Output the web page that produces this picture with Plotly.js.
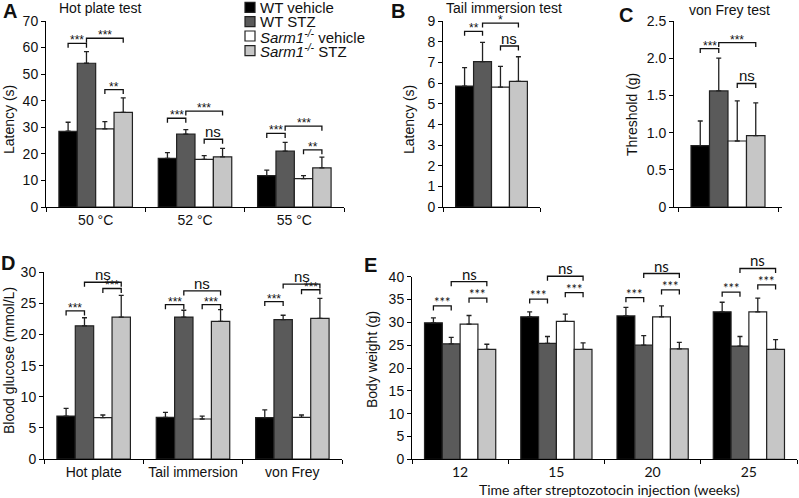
<!DOCTYPE html>
<html lang="en">
<head>
  <meta charset="UTF-8">
  <title>Sarm1 STZ neuropathy</title>
  <script src="https://cdn.plot.ly/plotly-3.0.1.min.js"></script>
  <style>
    body { margin: 0; background: #fff; }
    #chart { width: 799px; height: 498px; }
  </style>
</head>
<body>
  <div id="chart"></div>
  <script>
    // groups (legend order)
    const groupNames = ['WT vehicle', 'WT STZ', '<i>Sarm1<sup>-/-</sup></i> vehicle', '<i>Sarm1<sup>-/-</sup></i> STZ'];

    // A - hot plate latency (s), one row per group
    const hotCats = ['50 °C', '52 °C', '55 °C'];
    const hotMean = [[28.5, 18.3, 11.8], [54.1, 27.4, 21.0], [29.4, 17.9, 10.7], [35.6, 18.9, 14.7]];
    const hotErr = [[3.4, 2.2, 2.1], [4.4, 1.7, 3.3], [2.7, 1.4, 1.1], [5.5, 3.2, 4.1]];

    // B - tail immersion latency (s)
    const tailMean = [[5.85], [7.03], [5.8], [6.08]];
    const tailErr = [[0.89], [0.94], [1.0], [1.19]];

    // C - von Frey threshold (g)
    const frMean = [[0.826], [1.56], [0.887], [0.96]];
    const frErr = [[0.33], [0.44], [0.54], [0.44]];

    // D - blood glucose (mmol/L)
    const gluCats = ['Hot plate', 'Tail immersion', 'von Frey'];
    const gluMean = [[6.9, 6.7, 6.65], [21.4, 22.8, 22.4], [6.65, 6.43, 6.7], [22.8, 22.1, 22.6]];
    const gluErr = [[1.25, 0.8, 1.25], [1.3, 1.1, 0.7], [0.42, 0.47, 0.37], [3.5, 1.9, 3.2]];

    // E - body weight (g)
    const bwCats = ['12', '15', '20', '25'];
    const bwMean = [[29.9, 31.2, 31.4, 32.3], [25.3, 25.4, 25.0, 24.8], [29.6, 30.2, 31.2, 32.3], [24.1, 24.1, 24.2, 24.1]];
    const bwErr = [[1.1, 1.1, 1.9, 2.1], [1.4, 1.5, 2.1, 2.1], [1.9, 1.6, 2.4, 3.0], [1.1, 1.4, 1.4, 2.1]];

    // significance brackets: [category, bar from, bar to, level, label]
    const hotSig = [[0, 0, 1, 61.6, '***'], [0, 1, 3, 63.5, '***'], [0, 2, 3, 44.2, '**'],
                    [1, 0, 1, 33.4, '***'], [1, 1, 3, 36.1, '***'], [1, 2, 3, 25.5, 'ns'],
                    [2, 0, 1, 27.7, '***'], [2, 1, 3, 30.4, '***'], [2, 2, 3, 21.5, '**']];
    const tailSig = [[0, 0, 1, 8.5, '**'], [0, 1, 3, 8.9, '*'], [0, 2, 3, 7.79, 'ns']];
    const frSig = [[0, 0, 1, 2.13, '***'], [0, 1, 3, 2.21, '***'], [0, 2, 3, 1.66, 'ns']];
    const gluSig = [[0, 0, 1, 23.8, '***'], [0, 2, 3, 27.4, '***'], [0, 1, 3, 28.4, 'ns'],
                    [1, 0, 1, 24.8, '***'], [1, 2, 3, 24.8, '***'], [1, 1, 3, 27.0, 'ns'],
                    [2, 0, 1, 25.3, '***'], [2, 2, 3, 27.2, '***'], [2, 1, 3, 28.1, 'ns']];
    const bwSig = [[0, 0, 1, 33.6, '***'], [0, 2, 3, 35.3, '***'], [0, 1, 3, 38.9, 'ns'],
                   [1, 0, 1, 35.1, '***'], [1, 2, 3, 36.5, '***'], [1, 1, 3, 40.1, 'ns'],
                   [2, 0, 1, 35.4, '***'], [2, 2, 3, 37.1, '***'], [2, 1, 3, 40.7, 'ns'],
                   [3, 0, 1, 36.6, '***'], [3, 2, 3, 38.2, '***'], [3, 1, 3, 41.8, 'ns']];

    const W = 799, H = 498;
    const GAP = 0.26;
    const FONT = '"Liberation Sans", Arial, sans-serif';
    const FONT_E = 'Lato, "Open Sans", sans-serif';
    const fills = ['#000000', '#5a5a5a', '#ffffff', '#c6c6c6'];
    const px = x => x / W;
    const py = y => 1 - y / H;

    // box = [left, right, top, bottom] of the axes in page pixels
    const panels = [
      { id: '', cats: hotCats, mean: hotMean, err: hotErr, sig: hotSig, yMax: 70, dtick: 10,
        box: [46, 344, 21, 207], sigFont: FONT, sigSize: 12 },
      { id: '2', cats: [''], mean: tailMean, err: tailErr, sig: tailSig, yMax: 9, dtick: 1,
        box: [443, 540, 21, 207], sigFont: FONT, sigSize: 12 },
      { id: '3', cats: [''], mean: frMean, err: frErr, sig: frSig, yMax: 2.5, dtick: 0.5,
        box: [674, 782, 21, 207], sigFont: FONT, sigSize: 12, xPad: 0.04,
        tickText: ['0', '0.5', '1.0', '1.5', '2.0', '2.5'] },
      { id: '4', cats: gluCats, mean: gluMean, err: gluErr, sig: gluSig, yMax: 30, dtick: 5,
        box: [44, 342, 272.3, 459], sigFont: FONT, sigSize: 12 },
      // E brackets go above the top tick, so they get a taller hidden subplot (id 6)
      { id: '5', cats: bwCats, mean: bwMean, err: bwErr, sig: bwSig, yMax: 40, dtick: 5,
        box: [412, 797, 276.7, 459.3], sigFont: FONT_E, sigSize: 13, catFont: FONT_E, sigId: '6', sigTop: 245 }
    ];

    const barX = (c, i) => c + (-0.5 + (i + 0.5) / 4) * (1 - GAP);

    let traces = [];
    let annotations = [];
    let shapes = [];
    let layout = {
      width: W, height: H,
      margin: { l: 0, r: 0, t: 0, b: 0 },
      paper_bgcolor: '#fff', plot_bgcolor: 'rgba(0,0,0,0)',
      barmode: 'group', bargap: GAP, bargroupgap: 0,
      showlegend: false,
      font: { family: FONT, color: '#111', size: 14 }
    };

    panels.forEach(p => {
      const xa = 'x' + p.id, ya = 'y' + p.id;
      const n = p.cats.length;
      const idx = p.cats.map((_, i) => i);
      const [x0, x1, y0, y1] = p.box;
      const pad = p.xPad || 0;
      const xRange = [-0.5 - pad, n - 0.5 + pad];

      p.mean.forEach((vals, g) => {
        traces.push({
          type: 'bar', x: idx, y: vals, xaxis: xa, yaxis: ya,
          name: groupNames[g],
          marker: { color: fills[g], line: { color: '#222', width: 1.2 } },
          error_y: { type: 'data', symmetric: false, array: p.err[g], arrayminus: vals.map(() => 0),
                     color: '#222', thickness: 1.3, width: 2.5 },
          hoverinfo: 'skip'
        });
      });

      // where the brackets live
      let sx = xa, sy = ya;
      if (p.sigId) {
        sx = 'x' + p.sigId;
        sy = 'y' + p.sigId;
        const top = p.yMax * (y1 - p.sigTop) / (y1 - y0);
        layout['xaxis' + p.sigId] = { domain: [px(x0), px(x1)], anchor: sy, range: xRange, visible: false, fixedrange: true };
        layout['yaxis' + p.sigId] = { domain: [py(y1), py(p.sigTop)], anchor: sx, range: [0, top], visible: false, fixedrange: true };
      }

      const drop = 4.5 * p.yMax / (y1 - y0);
      let bx = [], by = [];
      p.sig.forEach(([c, a, b, lev, label]) => {
        const xa0 = barX(c, a), xb0 = barX(c, b);
        bx.push(xa0, xa0, xb0, xb0, null);
        by.push(lev - drop, lev, lev, lev - drop, null);
        const isNs = label === 'ns';
        annotations.push({
          xref: sx, yref: sy, x: (xa0 + xb0) / 2, y: lev, yanchor: 'bottom',
          text: label, showarrow: false,
          font: { family: p.sigFont, size: isNs ? 15 : p.sigSize, color: '#111' },
          yshift: isNs ? -3 : -6
        });
      });
      traces.push({
        type: 'scatter', mode: 'lines', x: bx, y: by, xaxis: sx, yaxis: sy,
        line: { color: '#111', width: 1.3 }, cliponaxis: false, hoverinfo: 'skip'
      });

      layout['xaxis' + p.id] = {
        domain: [px(x0), px(x1)], anchor: ya,
        range: xRange,
        tickvals: idx, ticktext: p.cats, ticks: '',
        tickfont: { family: p.catFont || FONT, size: 14, color: '#111' },
        showline: true, linecolor: '#000', linewidth: 1,
        showgrid: false, zeroline: false, fixedrange: true,
        minor: { tick0: 0.5, dtick: 1, ticks: 'outside', ticklen: 4, tickcolor: '#000', showgrid: false }
      };
      const tv = [];
      for (let v = 0; v <= p.yMax + 1e-9; v += p.dtick) tv.push(+v.toFixed(2));
      layout['yaxis' + p.id] = {
        domain: [py(y1), py(y0)], anchor: xa,
        range: [0, p.yMax],
        tickvals: tv, ticktext: p.tickText || tv.map(String),
        ticks: 'outside', ticklen: 4, tickcolor: '#000',
        tickfont: { family: FONT, size: 14, color: '#111' },
        showline: true, linecolor: '#000', linewidth: 1,
        showgrid: false, zeroline: false, fixedrange: true
      };
    });

    // texts placed on the page: [text, x, y, size, bold, anchor]
    const pageText = [
      ['A', 10, 11, 20, true, 'center'], ['B', 398, 11, 20, true, 'center'], ['C', 626, 15, 20, true, 'center'],
      ['D', 8, 263, 20, true, 'center'], ['E', 370, 265, 20, true, 'center'],
      ['Hot plate test', 57, 8, 14, false, 'left'], ['Tail immersion test', 444, 8, 14, false, 'left'],
      ['von Frey test', 687, 10, 14, false, 'left']
    ];
    pageText.forEach(([t, x, y, s, bold, anchor]) => {
      annotations.push({
        xref: 'paper', yref: 'paper', x: px(x), y: py(y), xanchor: anchor, yanchor: 'middle',
        text: bold ? '<b>' + t + '</b>' : t, showarrow: false,
        font: { family: FONT, size: s, color: '#111' }
      });
    });

    // axis titles
    const axisTitles = [
      ['Latency (s)', 9, 120], ['Latency (s)', 409, 120], ['Threshold (g)', 632, 115],
      ['Blood glucose (mmol/L)', 9, 361], ['Body weight (g)', 372, 360]
    ];
    axisTitles.forEach(([t, x, y]) => {
      annotations.push({
        xref: 'paper', yref: 'paper', x: px(x), y: py(y), xanchor: 'center', yanchor: 'middle',
        text: t, textangle: -90, showarrow: false,
        font: { family: FONT, size: 14, color: '#111' }
      });
    });
    annotations.push({
      xref: 'paper', yref: 'paper', x: px(477), y: py(489), xanchor: 'left', yanchor: 'middle',
      text: 'Time after streptozotocin injection (weeks)', showarrow: false,
      font: { family: FONT_E, size: 14, color: '#111' }
    });

    // legend
    const legendRows = [7.3, 21.7, 36, 50.7];
    groupNames.forEach((name, g) => {
      const yc = legendRows[g];
      shapes.push({
        type: 'rect', xref: 'paper', yref: 'paper',
        x0: px(245), x1: px(255), y0: py(yc + 5), y1: py(yc - 5),
        fillcolor: fills[g], line: { color: '#222', width: 1.2 }
      });
      annotations.push({
        xref: 'paper', yref: 'paper', x: px(258), y: py(yc), xanchor: 'left', yanchor: 'middle',
        text: name, showarrow: false, font: { family: FONT, size: 15, color: '#111' }
      });
    });

    layout.annotations = annotations;
    layout.shapes = shapes;

    Plotly.newPlot('chart', traces, layout, { displayModeBar: false, staticPlot: true });
  </script>
</body>
</html>
